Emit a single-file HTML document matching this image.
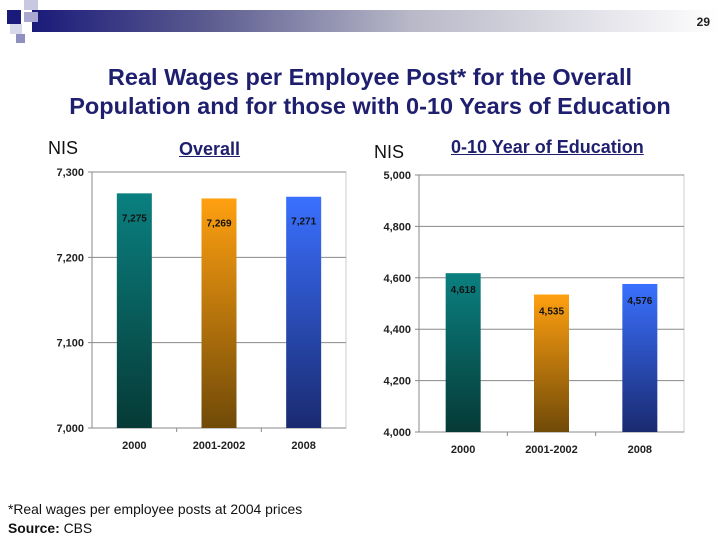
<!DOCTYPE html>
<html><head><meta charset="utf-8"><style>
body{margin:0;width:720px;height:540px;background:#fff;overflow:hidden;position:relative;font-family:"Liberation Sans",Arial,sans-serif}
.a{position:absolute}
</style></head><body>
<div class="a" style="left:32px;top:10px;width:688px;height:22px;background:linear-gradient(90deg,#1a1a7a 0%,#5a5a8f 25%,#b8b8c8 55%,#fff 100%)"></div>
<div class="a" style="left:7px;top:10px;width:14px;height:14px;background:#1a1a7a"></div>
<div class="a" style="left:24px;top:0;width:14px;height:10px;background:#c8c8e0"></div>
<div class="a" style="left:24px;top:12px;width:14px;height:10px;background:#a8a8d0"></div>
<div class="a" style="left:10px;top:24px;width:12px;height:10px;background:#d8d8ec"></div>
<div class="a" style="left:16px;top:34px;width:9px;height:9px;background:#9090c0"></div>
<div class="a" style="right:10px;top:15px;font-size:12px;font-weight:bold;color:#222">29</div>
<div class="a" style="left:0;width:740px;top:63px;text-align:center;font-size:23.5px;font-weight:bold;color:#1f1f6f;line-height:29px">Real Wages per Employee Post* for the Overall<br>Population and for those with 0-10 Years of Education</div>
<div class="a" style="left:48px;top:138px;font-size:18px;color:#111">NIS</div>
<div class="a" style="left:179px;top:139px;font-size:18px;font-weight:bold;color:#1f1f6f;text-decoration:underline">Overall</div>
<div class="a" style="left:374px;top:142px;font-size:18px;color:#111">NIS</div>
<div class="a" style="left:451px;top:137px;font-size:18px;font-weight:bold;color:#1f1f6f;text-decoration:underline">0-10 Year of Education</div>
<div class="a" style="left:8px;top:500px;font-size:13.9px;color:#111;line-height:19px">*Real wages per employee posts at 2004 prices<br><b>Source:</b> CBS</div>
<svg class="a" id="svg" style="left:0;top:0" width="720" height="540"></svg>
<script>
const categories=["2000","2001-2002","2008"];
const overallValues=[7275,7269,7271];
const overallLabels=["7,275","7,269","7,271"];
const overallTicks=[7000,7100,7200,7300];
const eduValues=[4618,4535,4576];
const eduLabels=["4,618","4,535","4,576"];
const eduTicks=[4000,4200,4400,4600,4800,5000];
const svg=document.getElementById('svg');const NS="http://www.w3.org/2000/svg";
const defs=document.createElementNS(NS,'defs');svg.appendChild(defs);
defs.innerHTML='<linearGradient id="g0" x1="0" y1="0" x2="0" y2="1"><stop offset="0" stop-color="#0a8080"/><stop offset="1" stop-color="#063a36"/></linearGradient><linearGradient id="g1" x1="0" y1="0" x2="0" y2="1"><stop offset="0" stop-color="#ffa010"/><stop offset="1" stop-color="#704a08"/></linearGradient><linearGradient id="g2" x1="0" y1="0" x2="0" y2="1"><stop offset="0" stop-color="#3a70ff"/><stop offset="1" stop-color="#1a2a70"/></linearGradient>';
function el(t,a){const e=document.createElementNS(NS,t);for(const k in a)e.setAttribute(k,a[k]);svg.appendChild(e);return e;}
function chart(p,vals,labels,ticks,pre){
 const min=ticks[0],max=ticks[ticks.length-1];
 const y=v=>p.y1-(v-min)/(max-min)*(p.y1-p.y0);
 const cw=(p.x1-p.x0)/categories.length;
 const x=i=>p.x0+cw*i+cw/2;
 const fr=el('rect',{x:p.x0,y:p.y0,width:p.x1-p.x0,height:p.y1-p.y0,fill:'none',stroke:'#ccc'});
 
 ticks.forEach(t=>{
  const l=el('line',{x1:p.x0-4,x2:p.x1,y1:y(t),y2:y(t),stroke:'#888','stroke-width':1});
  
  const tx=el('text',{x:p.x0-8,y:y(t)+4,'text-anchor':'end','font-size':11,'font-weight':'bold',fill:'#222'});
  tx.textContent=t.toLocaleString('en-US');
  
 });
 const ax=el('line',{x1:p.x0,x2:p.x0,y1:p.y0,y2:p.y1,stroke:'#888'});
 
 for(let i=1;i<categories.length;i++){const tk=el('line',{x1:p.x0+cw*i,x2:p.x0+cw*i,y1:p.y1,y2:p.y1+4,stroke:'#888'});
  }
 categories.forEach((c,i)=>{
  const r=el('rect',{x:x(i)-17.5,y:y(vals[i]),width:35,height:p.y1-y(vals[i]),fill:'url(#g'+i+')'});
  
  const lb=el('text',{x:x(i),y:y(vals[i])+p.lo,'text-anchor':'middle','font-size':10,'font-weight':'bold',fill:'#111'});
  lb.textContent=labels[i];
  const cl=el('text',{x:x(i),y:p.y1+21,'text-anchor':'middle','font-size':11,'font-weight':'bold',fill:'#222'});
  cl.textContent=c;
 });
}
chart({x0:92,x1:346,y0:172,y1:428,lo:28},overallValues,overallLabels,overallTicks,'overall');
chart({x0:419,x1:684,y0:175,y1:432,lo:20},eduValues,eduLabels,eduTicks,'edu');
</script>
</body></html>
